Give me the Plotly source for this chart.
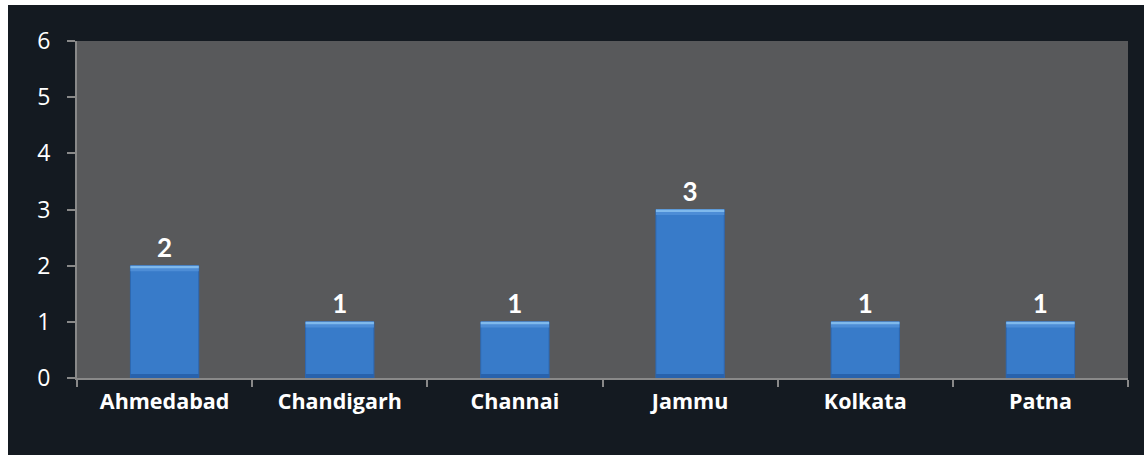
import plotly.graph_objects as go

categories = ["Ahmedabad", "Chandigarh", "Channai", "Jammu", "Kolkata", "Patna"]
values = [2, 1, 1, 3, 1, 1]
y_ticks = [0, 1, 2, 3, 4, 5, 6]

W, H = 1144, 455
ML, MR, MT, MB = 77, 16, 41, 77
PW, PH = W - ML - MR, H - MT - MB

def px_x(px):
    return (px - ML) / PW

def px_y(py):
    return (H - MB - py) / PH

DARK = "#141a21"
PLOT = "#58595b"
AXIS = "#898989"
FONT = "'Open Sans', Lato, sans-serif"
LFONT = "Lato, 'Open Sans', sans-serif"
BW = 0.39
n = len(values)

fig = go.Figure()
fig.add_trace(go.Bar(
    x=categories, y=values, width=BW,
    marker=dict(color="#387bc9", line=dict(color="#2d68b2", width=1)),
    hoverinfo="skip",
))
# bevel: lighter top band, brighter top edge, darker bottom band
fig.add_trace(go.Bar(
    x=categories, y=[0.1] * n, base=[v - 0.1 for v in values], width=BW,
    marker=dict(color="#4d8dd6", line=dict(width=0)), hoverinfo="skip",
))
fig.add_trace(go.Bar(
    x=categories, y=[0.045] * n, base=[v - 0.045 for v in values], width=BW,
    marker=dict(color="#7fb9ec", line=dict(width=0)), hoverinfo="skip",
))
fig.add_trace(go.Bar(
    x=categories, y=[0.07] * n, base=[0] * n, width=BW,
    marker=dict(color="#2862ac", line=dict(width=0)), hoverinfo="skip",
))
# value labels
fig.add_trace(go.Scatter(
    x=categories, y=values, mode="markers+text",
    marker=dict(size=2, opacity=0),
    text=[str(v) for v in values], textposition="top center",
    textfont=dict(family=LFONT, size=26, color="white", weight="bold"),
    cliponaxis=False, hoverinfo="skip",
))

fig.update_layout(
    width=W, height=H,
    margin=dict(l=ML, r=MR, t=MT, b=MB, pad=0),
    paper_bgcolor=DARK, plot_bgcolor=PLOT,
    barmode="overlay", showlegend=False,
    font=dict(family=FONT, color="white"),
    xaxis=dict(
        showgrid=False, showline=True, linecolor=AXIS, linewidth=2,
        ticks="outside", tickson="boundaries", ticklen=7, tickwidth=2, tickcolor=AXIS,
        tickfont=dict(family=FONT, size=21.5, color="white", weight="bold"),
        ticklabelstandoff=3, fixedrange=True,
    ),
    yaxis=dict(
        range=[0, 6], tickvals=y_ticks, showgrid=False, zeroline=False,
        showline=True, linecolor=AXIS, linewidth=2,
        ticks="outside", ticklen=8, tickwidth=2, tickcolor=AXIS,
        tickfont=dict(family=FONT, size=23, color="white"),
        ticklabelstandoff=12, fixedrange=True,
    ),
    shapes=[
        dict(type="rect", xref="paper", yref="paper", layer="above",
             x0=px_x(0), x1=px_x(8), y0=px_y(H), y1=px_y(0),
             fillcolor="white", line=dict(width=0)),
        dict(type="rect", xref="paper", yref="paper", layer="above",
             x0=px_x(0), x1=px_x(W), y0=px_y(5), y1=px_y(0),
             fillcolor="white", line=dict(width=0)),
    ],
)

fig.write_html("out.html", config={"displayModeBar": False},
               post_script="document.body.style.margin='0';")
